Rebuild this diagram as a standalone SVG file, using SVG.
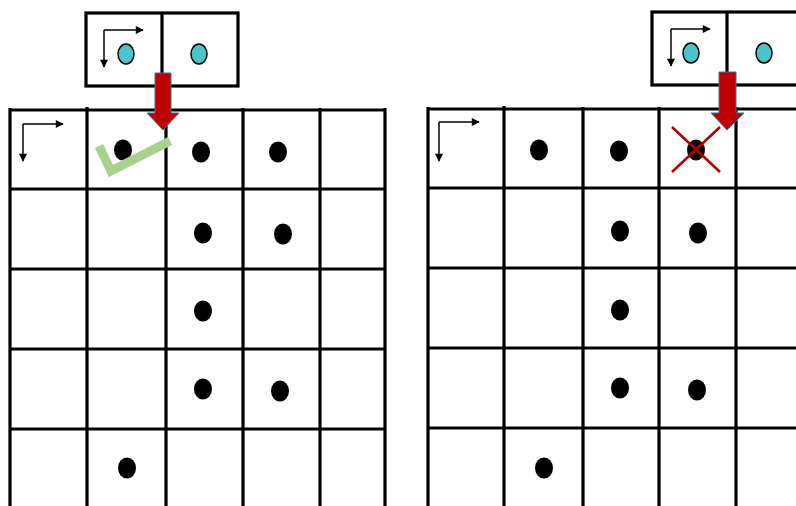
<svg xmlns="http://www.w3.org/2000/svg" width="796" height="506" viewBox="0 0 796 506">
<style>
.grid{stroke:#000;stroke-width:3.2;fill:none}
.dot{fill:#000}
.teal{fill:#4BC3CB;stroke:#000;stroke-width:1.5}
.corner{stroke:#000;stroke-width:1.5;fill:none;marker-end:url(#tri)}
.red{fill:#C00000;stroke:#41719C;stroke-width:1}
</style>
<defs>
<marker id="tri" viewBox="0 0 10 10" refX="9" refY="5" markerWidth="9" markerHeight="8" markerUnits="userSpaceOnUse" orient="auto">
<path d="M0,0 L10,5 L0,10 Z" fill="#000"/>
</marker>
</defs>
<rect width="796" height="506" fill="#fff"/>

<g id="left-kernel">
<rect class="grid" x="86" y="13" width="152" height="73"/>
<line class="grid" x1="162" y1="13" x2="162" y2="86"/>
<path class="corner" d="M104,30 H143"/>
<path class="corner" d="M104,30 V67"/>
<ellipse class="teal" cx="126" cy="54" rx="8" ry="10"/>
<ellipse class="teal" cx="199" cy="54" rx="8" ry="10"/>
</g>

<g id="right-kernel">
<rect class="grid" x="652" y="12" width="160" height="73"/>
<line class="grid" x1="727" y1="12" x2="727" y2="85"/>
<path class="corner" d="M671,29 H710"/>
<path class="corner" d="M671,29 V66"/>
<ellipse class="teal" cx="691" cy="53" rx="8" ry="10"/>
<ellipse class="teal" cx="764" cy="53" rx="8" ry="10"/>
</g>

<g id="left-grid">
<path class="grid" d="M9,110 H385 M9,189 H385 M9,269 H385 M9,349 H385 M9,429 H385 M10,108 V510 M87,107 V510 M166,108 V510 M243,108 V510 M320,108 V510 M385,108 V510"/>
<path class="corner" d="M23,124 H63"/>
<path class="corner" d="M23,124 V161"/>
<ellipse class="dot" cx="123" cy="150" rx="9" ry="10.5"/>
<ellipse class="dot" cx="201" cy="152" rx="9" ry="10.5"/>
<ellipse class="dot" cx="278" cy="152" rx="9" ry="10.5"/>
<ellipse class="dot" cx="203" cy="233" rx="9" ry="10.5"/>
<ellipse class="dot" cx="283" cy="234" rx="9" ry="10.5"/>
<ellipse class="dot" cx="203" cy="311" rx="9" ry="10.5"/>
<ellipse class="dot" cx="203" cy="389" rx="9" ry="10.5"/>
<ellipse class="dot" cx="280" cy="391" rx="9" ry="10.5"/>
<ellipse class="dot" cx="127" cy="468" rx="9" ry="10.5"/>
</g>

<g id="right-grid">
<path class="grid" d="M427,109 H800 M427,188 H800 M427,268 H800 M427,348 H800 M427,428 H800 M428,107 V510 M504,106 V510 M583,107 V510 M659,107 V510 M736,107 V510"/>
<path class="corner" d="M439,122 H479"/>
<path class="corner" d="M439,122 V161"/>
<ellipse class="dot" cx="539" cy="150" rx="9" ry="10.5"/>
<ellipse class="dot" cx="619" cy="151" rx="9" ry="10.5"/>
<ellipse class="dot" cx="696" cy="150" rx="9" ry="10.5"/>
<ellipse class="dot" cx="620" cy="231" rx="9" ry="10.5"/>
<ellipse class="dot" cx="698" cy="233" rx="9" ry="10.5"/>
<ellipse class="dot" cx="620" cy="310" rx="9" ry="10.5"/>
<ellipse class="dot" cx="620" cy="388" rx="9" ry="10.5"/>
<ellipse class="dot" cx="697" cy="390" rx="9" ry="10.5"/>
<ellipse class="dot" cx="544" cy="468" rx="9" ry="10.5"/>
</g>

<g id="marks">
<polyline points="99,146 111,171 170,141" fill="none" stroke="#A9D18E" stroke-width="9" stroke-linejoin="miter"/>
<path d="M672,127 L720,172 M672,172 L720,127" stroke="#B00000" stroke-width="2.5" fill="none"/>
</g>

<g id="connectors">
<path class="red" d="M155,73 H171 V113 H179 L163,130 L147,113 H155 Z"/>
<path class="red" d="M719,72 H736 V113 H744 L727,130 L711,113 H719 Z"/>
</g>
</svg>
